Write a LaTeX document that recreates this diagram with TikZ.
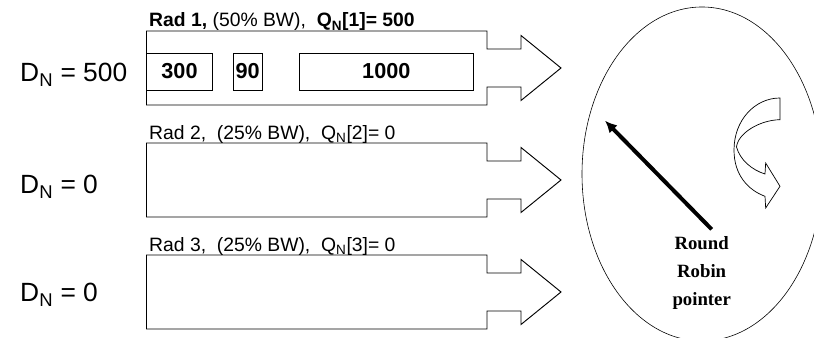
\documentclass[tikz,border=0pt]{standalone}
\usepackage{fontspec}
\setmainfont{Liberation Sans}
\newfontfamily\rrfont{Liberation Serif}
\usetikzlibrary{arrows.meta,calc,positioning}
\tikzset{
  >={Latex[length=3.6mm,width=3.4mm]},
  qarrow/.style={draw=black, line width=0.8pt, fill=white, line join=miter},
  pktbox/.style={draw=black, line width=0.8pt, fill=white, minimum height=1.11cm, inner sep=0pt, font=\fontsize{18.5}{21}\selectfont\bfseries},
  radlabel/.style={anchor=base west, inner sep=0pt, font=\fontsize{16.5}{19}\selectfont},
  deflabel/.style={anchor=base west, inner sep=0pt, font=\fontsize{22.5}{26}\selectfont},
  rrring/.style={draw=black, line width=0.5pt},
  pointer/.style={->, line width=3.4pt, draw=black},
  spin/.style={draw=black, line width=0.6pt, fill=white},
  rrtext/.style={align=center, inner sep=0pt, font=\rrfont\fontsize{16}{23.5}\selectfont\bfseries},
}

\begin{document}
\begin{tikzpicture}[x=1cm,y=1cm]
  \useasboundingbox (0,0) rectangle (24.42,10.14);

  % queue arrows, one per radio
  \foreach \y in {8.10,4.74,1.38}{
    \draw[qarrow] (4.395,\y+1.11) -- (14.61,\y+1.11) -- (14.61,\y+0.57) -- (15.63,\y+0.57)
      -- (15.63,\y+0.975) -- (16.83,\y) -- (15.63,\y-0.975) -- (15.63,\y-0.57)
      -- (14.61,\y-0.57) -- (14.61,\y-1.11) -- (4.395,\y-1.11) -- cycle;
  }

  % packets waiting in queue 1
  \node[pktbox, minimum width=1.97cm] (p300) at (5.385,7.995) {300};
  \node[pktbox, minimum width=0.86cm] (p90) at (7.43,7.995) {90};
  \node[pktbox, minimum width=5.22cm] (p1000) at (11.59,7.995) {1000};

  % queue labels
  \node[radlabel] (rad1) at (4.47,9.33) {\textbf{Rad 1,} (50\% BW),\ \ \textbf{Q\textsubscript{N}[1]= 500}};
  \node[radlabel] (rad2) at (4.47,5.96) {Rad 2,\ \ (25\% BW),\ \ Q\textsubscript{N}[2]= 0};
  \node[radlabel] (rad3) at (4.47,2.60) {Rad 3,\ \ (25\% BW),\ \ Q\textsubscript{N}[3]= 0};

  % deficit counters
  \node[deflabel] (dn1) at (0.60,7.68) {D\textsubscript{N} = 500};
  \node[deflabel] (dn2) at (0.60,4.32) {D\textsubscript{N} = 0};
  \node[deflabel] (dn3) at (0.60,1.08) {D\textsubscript{N} = 0};

  % scheduler ring
  \begin{scope}
    \clip (0,0) rectangle (24.42,10.14);
    \draw[rrring] (21.06,4.92) ellipse [x radius=3.6, y radius=5.01];
  \end{scope}

  \node[rrtext] (rr) at (21.05,1.95) {Round\\Robin\\pointer};
  \coordinate (ptail) at (21.35,3.26);
  \coordinate (ptip) at (18.15,6.52);
  \draw[pointer] (ptail) -- (ptip);

  % turning direction
  \draw[spin] (23.40,7.20) .. controls (22.65,7.20) and (22.02,6.54) .. (22.02,5.64)
    .. controls (22.02,4.89) and (22.44,4.44) .. (22.95,4.251)
    -- (22.97,3.90) -- (23.40,4.551) -- (22.97,5.25) -- (22.95,4.92)
    .. controls (22.56,5.04) and (22.20,5.34) .. (22.095,5.73)
    .. controls (22.14,6.15) and (22.80,6.54) .. (23.40,6.549) -- cycle;
\end{tikzpicture}
\end{document}
